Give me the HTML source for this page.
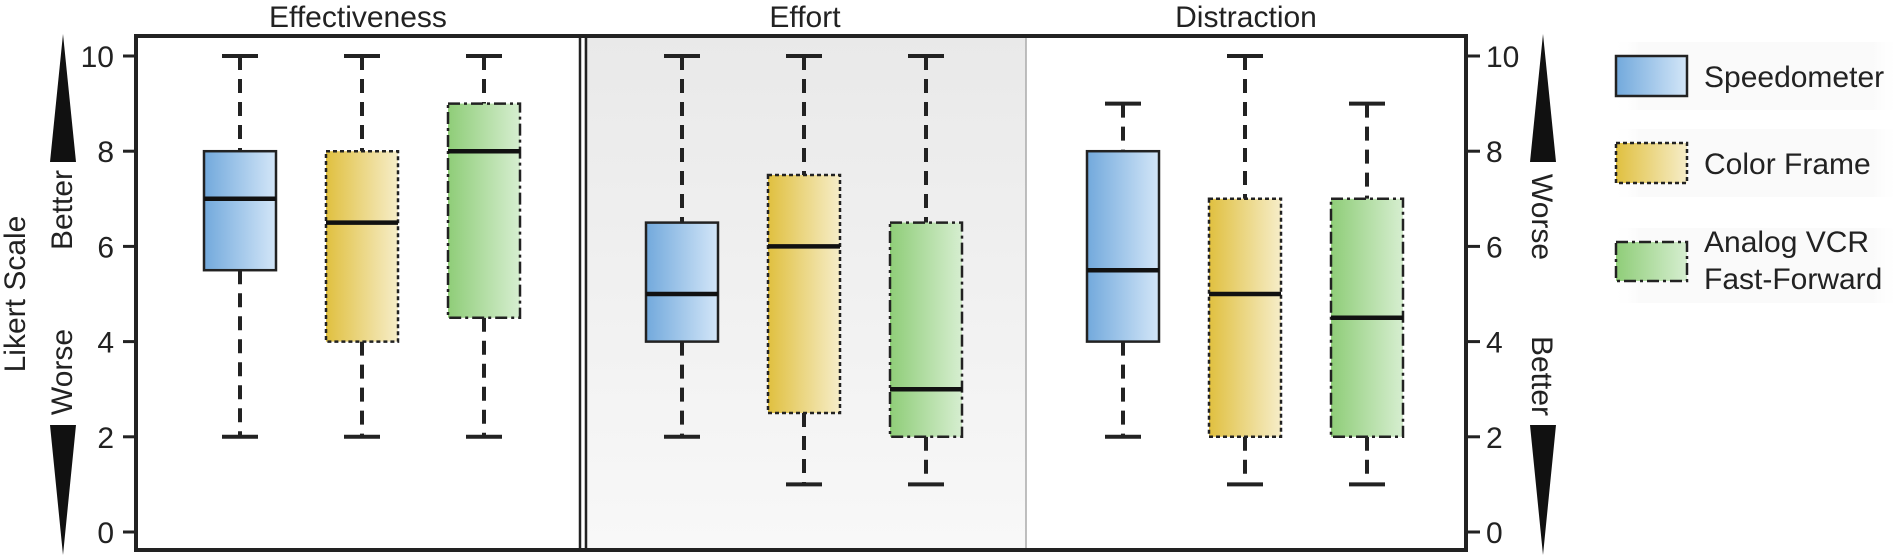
<!DOCTYPE html>
<html><head><meta charset="utf-8">
<style>
html,body{margin:0;padding:0;background:#fff;}
svg{display:block;font-family:"Liberation Sans",Arial,sans-serif;}
</style></head>
<body>
<svg id="chart" width="1901" height="558" viewBox="0 0 1901 558">
<defs>
<linearGradient id="gS" x1="0" x2="1" y1="0" y2="0"><stop offset="0" stop-color="#72a9dc"/><stop offset="1" stop-color="#d3e6f8"/></linearGradient>
<linearGradient id="gC" x1="0" x2="1" y1="0" y2="0"><stop offset="0" stop-color="#e0c040"/><stop offset="1" stop-color="#f6edc8"/></linearGradient>
<linearGradient id="gA" x1="0" x2="1" y1="0" y2="0"><stop offset="0" stop-color="#8fcd78"/><stop offset="1" stop-color="#d6eed0"/></linearGradient>
<linearGradient id="gPanel" x1="0" x2="0" y1="0" y2="1"><stop offset="0" stop-color="#e9e9e9"/><stop offset="1" stop-color="#f8f8f8"/></linearGradient>
<linearGradient id="gLeg" x1="0" x2="1" y1="0" y2="0"><stop offset="0" stop-color="#fff" stop-opacity="0"/><stop offset="0.1" stop-color="#f0f0f0"/><stop offset="0.9" stop-color="#f0f0f0"/><stop offset="1" stop-color="#fff" stop-opacity="0"/></linearGradient>
</defs>
<g id="plot"></g>
</svg>
<script>
const panels = ["Effectiveness", "Effort", "Distraction"];
const seriesNames = ["Speedometer", "Color Frame", "Analog VCR"];
// each entry: [min, q1, median, q3, max] per panel
const speedometer = [[2,5.5,7,8,10],[2,4,5,6.5,10],[2,4,5.5,8,9]];
const colorFrame  = [[2,4,6.5,8,10],[1,2.5,6,7.5,10],[1,2,5,7,10]];
const analogVCR   = [[2,4.5,8,9,10],[1,2,3,6.5,10],[1,2,4.5,7,9]];
const yTicks = [0,2,4,6,8,10];

const NS = "http://www.w3.org/2000/svg";
const g = document.getElementById("plot");
const X0 = 136, X1 = 1466, Y0 = 36, Y1 = 550;
const yScale = v => 532 - v * 47.6;
const panelLeft = [136, 584, 1026], panelRight = [580, 1026, 1466];
const boxOffsets = [-122, 0, 122];
const panelCenter = i => [362, 804, 1245][i];
const xScale = (p, s) => panelCenter(p) + boxOffsets[s];
function el(tag, attrs, parent) {
  const e = document.createElementNS(NS, tag);
  for (const k in attrs) e.setAttribute(k, attrs[k]);
  (parent || g).appendChild(e);
  return e;
}
let bg = el("rect", {x:584, y:Y0, width:442, height:Y1-Y0, fill:"url(#gPanel)"});


let d2 = el("line", {x1:1026, x2:1026, y1:Y0, y2:Y1, stroke:"#aaa", "stroke-width":1.5});


let d1 = el("line", {x1:580, x2:580, y1:Y0, y2:Y1, stroke:"#222", "stroke-width":2.5});


let d1b = el("line", {x1:586, x2:586, y1:Y0, y2:Y1, stroke:"#222", "stroke-width":2.5});


panels.forEach((t, i) => {
  const tx = el("text", {x:(panelLeft[i]+panelRight[i])/2, y:27, "text-anchor":"middle", "font-size":30, fill:"#222"});
  tx.textContent = t;
  
  
});
const series = [speedometer, colorFrame, analogVCR];
const fills = ["url(#gS)", "url(#gC)", "url(#gA)"];
const dashes = ["none", "4 3", "12 4 3 4"];
series.forEach((ser, s) => {
  ser.forEach((st, p) => {
    const cx = xScale(p, s), hw = 36;
    const [mn, q1, md, q3, mx] = st;
    const w1 = el("line", {x1:cx, x2:cx, y1:yScale(mx), y2:yScale(q3), stroke:"#222", "stroke-width":4, "stroke-dasharray":"14 9"});
    
    
    const w2 = el("line", {x1:cx, x2:cx, y1:yScale(q1), y2:yScale(mn), stroke:"#222", "stroke-width":4, "stroke-dasharray":"14 9"});
    
    
    const c1 = el("line", {x1:cx-18, x2:cx+18, y1:yScale(mx), y2:yScale(mx), stroke:"#222", "stroke-width":4});
    
    
    const c2 = el("line", {x1:cx-18, x2:cx+18, y1:yScale(mn), y2:yScale(mn), stroke:"#222", "stroke-width":4});
    
    
    const b = el("rect", {x:cx-hw, y:yScale(q3), width:hw*2, height:yScale(q1)-yScale(q3), fill:fills[s], stroke:"#222", "stroke-width":2.5, "stroke-dasharray":dashes[s]});
    
    
    const m = el("line", {x1:cx-hw, x2:cx+hw, y1:yScale(md), y2:yScale(md), stroke:"#111", "stroke-width":4.5});
    
    
  });
});
const fr = el("rect", {x:X0, y:Y0, width:X1-X0, height:Y1-Y0, fill:"none", stroke:"#222", "stroke-width":4});


yTicks.forEach(v => {
  const y = yScale(v);
  const t1 = el("line", {x1:123, x2:136, y1:y, y2:y, stroke:"#222", "stroke-width":3});
  
  
  const l1 = el("text", {x:114, y:y+11, "text-anchor":"end", "font-size":30, fill:"#222"});
  l1.textContent = v;
  
  
  const t2 = el("line", {x1:1466, x2:1480, y1:y, y2:y, stroke:"#222", "stroke-width":3});
  
  
  const l2 = el("text", {x:1486, y:y+11, "text-anchor":"start", "font-size":30, fill:"#222"});
  l2.textContent = v;
  
  
});
function arrow(cx, yTip, yBase, name) {
  const a = el("polygon", {points:`${cx},${yTip} ${cx-13},${yBase} ${cx+13},${yBase}`, fill:"#111"});
  
  
}
function vtext(x, y, txt, rot, size, name) {
  const t = el("text", {x:x, y:y, transform:`rotate(${rot} ${x} ${y})`, "text-anchor":"middle", "font-size":size, fill:"#222"});
  t.textContent = txt;
  
  
}
arrow(63, 34, 162, 'left-up-arrow');
arrow(63, 555, 425, 'left-down-arrow');
arrow(1543, 34, 162, 'right-up-arrow');
arrow(1543, 555, 425, 'right-down-arrow');
vtext(25, 294, "Likert Scale", -90, 30, 'y-axis-title');
vtext(72, 210, "Better", -90, 30, 'left-better-label');
vtext(72, 372, "Worse", -90, 30, 'left-worse-label');
vtext(1532, 217, "Worse", 90, 30, 'right-worse-label');
vtext(1532, 376, "Better", 90, 30, 'right-better-label');
const legRows = [[56,96,"Speedometer"],[143,183,"Color Frame"],[242,281,"Analog VCR","Fast-Forward"]];
legRows.forEach((r, i) => {
  const rb = el("rect", {x:1612, y:r[0]-14, width:289, height:(r[1]-r[0])+(i==2?36:28), fill:"url(#gLeg)", opacity:0.35});
  
  
  const sw = el("rect", {x:1616, y:r[0], width:71, height:r[1]-r[0], fill:fills[i], stroke:"#222", "stroke-width":2.5, "stroke-dasharray":dashes[i]});
  
  
  if (r[3]) {
    const t1 = el("text", {x:1704, y:252, "font-size":30, fill:"#222"}); t1.textContent = r[2];
    
    
    const t2 = el("text", {x:1704, y:289, "font-size":30, fill:"#222"}); t2.textContent = r[3];
    
    
  } else {
    const t = el("text", {x:1704, y:(r[0]+r[1])/2+11, "font-size":30, fill:"#222"}); t.textContent = r[2];
    
    
  }
});
</script>
</body></html>
